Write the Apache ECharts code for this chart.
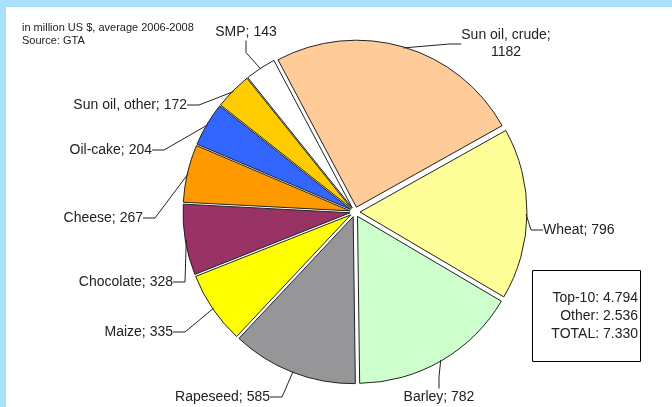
<!DOCTYPE html>
<html>
<head>
<meta charset="utf-8">
<script src="https://cdn.jsdelivr.net/npm/echarts@6/dist/echarts.min.js"></script>
<style>
  html, body { margin: 0; padding: 0; background: #a8e1f9; }
  #chart { position: absolute; left: 6px; top: 7px; width: 666px; height: 400px; background: #fff; }
</style>
</head>
<body>
<div id="chart"></div>
<script>
// top-10 products, million US $, avg 2006-2008
const products = ["Sun oil, crude", "Wheat", "Barley", "Rapeseed", "Maize", "Chocolate", "Cheese", "Oil-cake", "Sun oil, other", "SMP"];
const values = [1182, 796, 782, 585, 335, 328, 267, 204, 172, 143];
const colors = ["#ffcc99", "#ffff99", "#ccffcc", "#969699", "#ffff00", "#993366", "#ff9900", "#3366ff", "#ffcc00", "#ffffff"];
const summary = ["Top-10: 4.794", "Other: 2.536", "TOTAL: 7.330"];

// where each label sits (like the Excel original), x / y / anchor
const labelSpots = [
  [500, 37, "center"],
  [537, 223, "left"],
  [433, 390, "center"],
  [264, 390, "right"],
  [167, 325, "right"],
  [167, 275, "right"],
  [137, 211, "right"],
  [146, 143, "right"],
  [181, 98, "right"],
  [240, 25, "center"]
];

const pieBase = {
  type: "pie",
  center: [349, 205],
  startAngle: 118,
  clockwise: true,
  emphasis: { disabled: true },
  silent: true
};

const chart = echarts.init(document.getElementById("chart"));

chart.setOption({
  animation: false,
  title: {
    text: "in million US $, average 2006-2008\nSource: GTA",
    left: 11,
    top: 9,
    textStyle: { fontFamily: "Liberation Sans", fontSize: 11, fontWeight: "normal", color: "#222", lineHeight: 13 }
  },
  graphic: [
    {
      type: "rect",
      left: 526,
      top: 263,
      shape: { width: 108, height: 91 },
      style: { fill: "#fff", stroke: "#000", lineWidth: 1 }
    },
    {
      type: "text",
      right: 34,
      top: 282,
      style: {
        text: summary.join("\n"),
        textAlign: "right",
        align: "right",
        fontFamily: "Liberation Sans",
        fontSize: 14,
        lineHeight: 18,
        fill: "#222"
      }
    }
  ],
  series: [
    // exploded slices
    Object.assign({}, pieBase, {
      radius: 167,
      selectedMode: "multiple",
      selectedOffset: 5,
      data: products.map((name, i) => ({
        name: name,
        value: values[i],
        selected: true,
        itemStyle: { color: colors[i] }
      })),
      itemStyle: { borderColor: "#222", borderWidth: 1 },
      label: { show: false },
      labelLine: { show: false }
    }),
    // same pie, invisible, a bit larger so leader lines start on the exploded rim
    Object.assign({}, pieBase, {
      z: 3,
      radius: 171,
      data: products.map((name, i) => ({ name: name, value: values[i] })),
      itemStyle: { color: "rgba(0,0,0,0)", borderWidth: 0 },
      label: {
        formatter: (p) => p.name === "Sun oil, crude" ? "Sun oil, crude;\n" + p.value : p.name + "; " + p.value,
        fontFamily: "Liberation Sans",
        fontSize: 14,
        color: "#222",
        lineHeight: 17,
        align: "center"
      },
      labelLine: {
        length: 14,
        length2: 12,
        lineStyle: { color: "#222", width: 1 }
      },
      labelLayout: (params) => {
        const s = labelSpots[params.dataIndex];
        return { x: s[0], y: s[1], align: s[2], verticalAlign: "middle" };
      }
    })
  ]
});
</script>
</body>
</html>
